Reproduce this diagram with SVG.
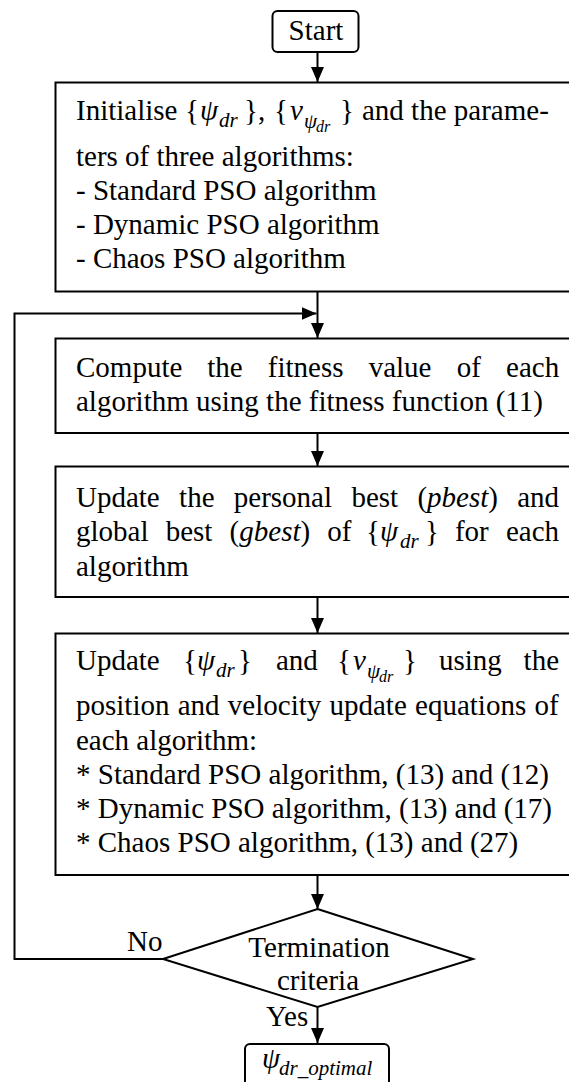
<svg xmlns="http://www.w3.org/2000/svg" width="569" height="1082" viewBox="0 0 569 1082">
<style>
text{font-family:"Liberation Serif","Times New Roman",serif;font-size:29px;fill:#000}
.i{font-style:italic}
.s{font-size:21px;font-style:italic}
.ss{font-size:16px;font-style:italic}
.box{fill:#fff;stroke:#000;stroke-width:2}
.c{fill:none;stroke:#000;stroke-width:2}
</style>
<defs>
<marker id="ah" viewBox="0 0 15 13" refX="15" refY="6.5" markerWidth="15" markerHeight="13" markerUnits="userSpaceOnUse" orient="auto">
<path d="M0,0 L15,6.5 L0,13 z" fill="#000"/>
</marker>
</defs>
<rect width="569" height="1082" fill="#fff"/>
<g id="connectors">
<path class="c" d="M317.5,52 V82" marker-end="url(#ah)"/>
<path class="c" d="M317.5,292 V338" marker-end="url(#ah)"/>
<path class="c" d="M317.5,433 V466" marker-end="url(#ah)"/>
<path class="c" d="M317.5,597 V633" marker-end="url(#ah)"/>
<path class="c" d="M317.5,875 V909" marker-end="url(#ah)"/>
<path class="c" d="M317.5,1007 V1043" marker-end="url(#ah)"/>
<path class="c" d="M163,959 H14.5 V313.5 H316.5" marker-end="url(#ah)"/>
<text x="127" y="951">No</text>
<text x="266" y="1026">Yes</text>
</g>
<g id="start">
<rect class="box" x="272.5" y="11" width="86" height="41" rx="5"/>
<text x="316" y="40" text-anchor="middle">Start</text>
</g>
<g id="init">
<rect class="box" x="55.5" y="82.5" width="600" height="209"/>
<text x="76" y="120">Initialise</text>
<text x="185" y="120">{</text>
<text class="i" x="200" y="120">ψ</text>
<text class="s" x="219" y="127">dr</text>
<text x="244" y="120">},</text>
<text x="274" y="120">{</text>
<text class="i" x="290" y="120">v</text>
<text class="s" x="304" y="128">ψ</text>
<text class="ss" x="316" y="132">dr</text>
<text x="340" y="120">}</text>
<text x="362" y="120">and the parame-</text>
<text x="76" y="166">ters of three algorithms:</text>
<text x="76" y="200">- Standard PSO algorithm</text>
<text x="76" y="234">- Dynamic PSO algorithm</text>
<text x="76" y="268">- Chaos PSO algorithm</text>
</g>
<g id="compute">
<rect class="box" x="55.5" y="338.5" width="600" height="94.5"/>
<text x="76" y="377">Compute</text>
<text x="207.2" y="377">the</text>
<text x="267.8" y="377">fitness</text>
<text x="368.7" y="377">value</text>
<text x="456.7" y="377">of</text>
<text x="506.1" y="377">each</text>
<text x="76" y="411">algorithm using the fitness function (11)</text>
</g>
<g id="best">
<rect class="box" x="55.5" y="466.5" width="600" height="130.5"/>
<text x="76" y="507">Update</text>
<text x="179.1" y="507">the</text>
<text x="233.8" y="507">personal</text>
<text x="351.4" y="507">best</text>
<text x="417.4" y="507">(<tspan class="i">pbest</tspan>)</text>
<text x="517.2" y="507">and</text>
<text x="76" y="541">global</text>
<text x="165.7" y="541">best</text>
<text x="229.6" y="541">(<tspan class="i">gbest</tspan>)</text>
<text x="327.3" y="541">of</text>
<text x="366" y="541">{</text>
<text class="i" x="380" y="541">ψ</text>
<text class="s" x="400" y="548">dr</text>
<text x="425" y="541">}</text>
<text x="454.9" y="541">for</text>
<text x="505.9" y="541">each</text>
<text x="76" y="576">algorithm</text>
</g>
<g id="update">
<rect class="box" x="55.5" y="633.5" width="600" height="241.5"/>
<text x="76" y="670">Update</text>
<text x="183" y="670">{</text>
<text class="i" x="197" y="670">ψ</text>
<text class="s" x="216" y="677">dr</text>
<text x="238" y="670">}</text>
<text x="276" y="670">and</text>
<text x="337" y="670">{</text>
<text class="i" x="353" y="670">v</text>
<text class="s" x="367" y="678">ψ</text>
<text class="ss" x="379" y="682">dr</text>
<text x="403" y="670">}</text>
<text x="439" y="670">using</text>
<text x="523.6" y="670">the</text>
<text x="76" y="715" word-spacing="1">position and velocity update equations of</text>
<text x="76" y="750">each algorithm:</text>
<text x="76" y="784">* Standard PSO algorithm, (13) and (12)</text>
<text x="76" y="818">* Dynamic PSO algorithm, (13) and (17)</text>
<text x="76" y="852">* Chaos PSO algorithm, (13) and (27)</text>
</g>
<g id="decision">
<polygon class="box" points="317.5,909 473,959 317.5,1007 163,959"/>
<text x="319" y="957" text-anchor="middle">Termination</text>
<text x="318" y="990" text-anchor="middle">criteria</text>
</g>
<g id="result">
<rect class="box" x="245" y="1044" width="144" height="50" rx="5"/>
<text class="i" x="262" y="1068">ψ</text>
<text class="s" x="279" y="1075">dr_optimal</text>
</g>
</svg>
